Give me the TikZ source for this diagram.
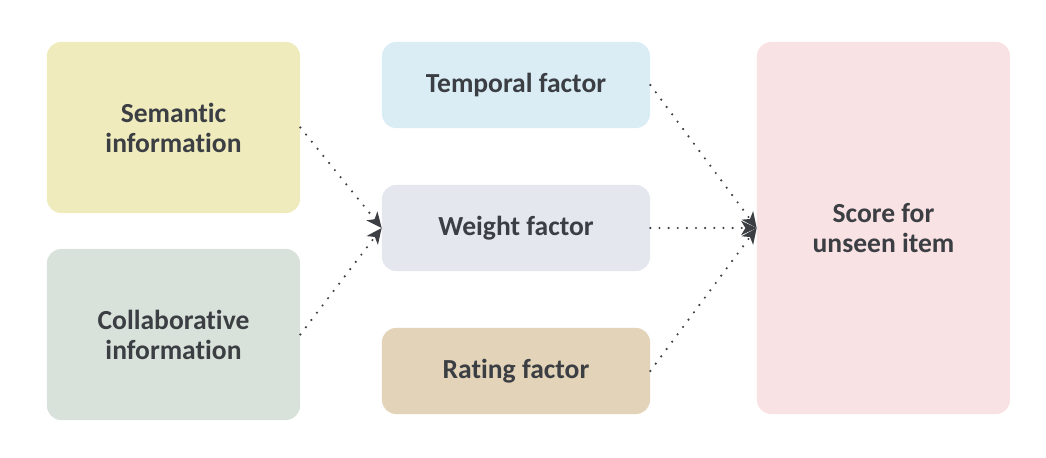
\documentclass[tikz,border=0pt]{standalone}
\usepackage{fontspec}
\setmainfont{Carlito}[Ligatures=NoCommon]
\usetikzlibrary{arrows.meta}

\definecolor{txtgray}{HTML}{3B3E43}
\definecolor{semfill}{HTML}{EFEBBD}
\definecolor{colfill}{HTML}{D9E2DA}
\definecolor{tmpfill}{HTML}{DAEDF5}
\definecolor{wgtfill}{HTML}{E5E7EF}
\definecolor{ratfill}{HTML}{E3D3B8}
\definecolor{scrfill}{HTML}{F9E2E3}

\tikzset{
  box/.style={rounded corners=10pt, align=center, text=txtgray,
    font=\fontsize{19.6}{21.3}\selectfont\bfseries, inner sep=0pt},
  bigbox/.style={box, minimum width=6.325cm, minimum height=4.275cm},
  factorbox/.style={box, minimum width=6.7cm, minimum height=2.15cm},
  link/.style={draw=txtgray, line width=1.7pt, line cap=round,
    dash pattern=on 0pt off 6.5pt, -{Stealth[length=11pt,width=10pt,inset=3pt]}}
}

\begin{document}
\begin{tikzpicture}[x=0.025cm,y=-0.025cm]
    \useasboundingbox (0,0) rectangle (1046,458);

    % Inputs
    \node[bigbox, fill=semfill] (sem) at (173.5,127.5) {Semantic\\information};
    \node[bigbox, fill=colfill] (col) at (173.5,334.5) {Collaborative\\information};

    % Factors
    \node[factorbox, fill=tmpfill] (tmp) at (516,85) {Temporal factor};
    \node[factorbox, fill=wgtfill] (wgt) at (516,228) {Weight factor};
    \node[factorbox, fill=ratfill] (rat) at (516,371) {Rating factor};

    % Output
    \node[box, fill=scrfill, minimum width=6.325cm, minimum height=9.3cm] (scr) at (883.5,228) {Score for\\unseen item};

    % Links
    \draw[link] (sem.east) -- (wgt.west);
    \draw[link] (col.east) -- (wgt.west);
    \draw[link] (tmp.east) -- (scr.west);
    \draw[link] (wgt.east) -- (scr.west);
    \draw[link] (rat.east) -- (scr.west);
\end{tikzpicture}
\end{document}
